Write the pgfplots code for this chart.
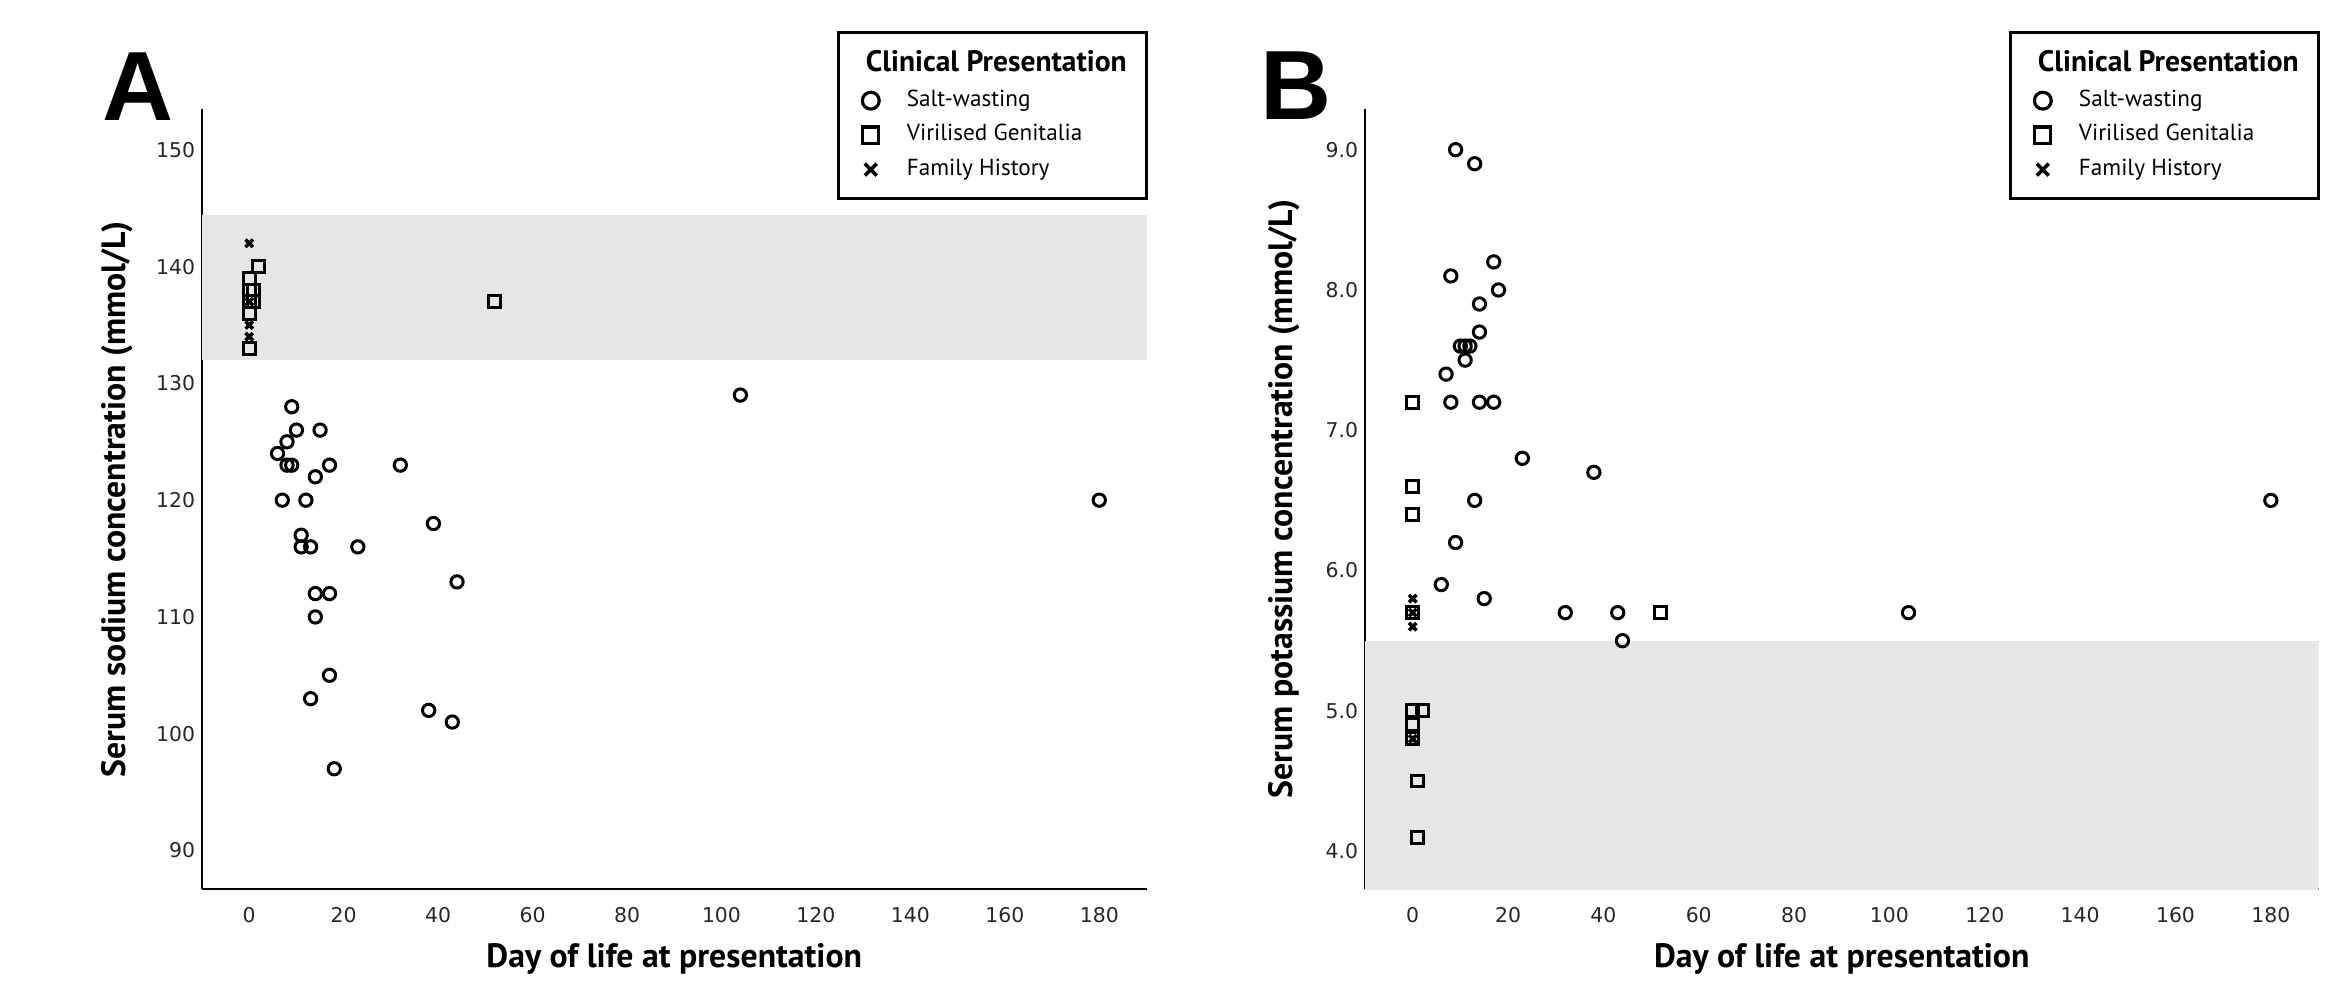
\documentclass[border=0pt]{standalone}
\usepackage{fontspec}
\setmainfont{PT Sans}
\newfontfamily\tickfont{DejaVu Sans}
\newfontfamily\letterfont{Liberation Sans}
\usepackage{pgfplots}
\pgfplotsset{compat=1.18}
\pgfplotsset{/pgf/number format/assume math mode=true}
\definecolor{bandgray}{RGB}{231,229,231}

\pgfplotstableread{
x y
9 128
10 126
15 126
8 125
6 124
8 123
9 123
17 123
32 123
14 122
7 120
12 120
39 118
11 117
11 116
13 116
23 116
44 113
14 112
17 112
14 110
17 105
13 103
38 102
43 101
18 97
104 129
180 120
}\NaCirc
\pgfplotstableread{
x y
0 139
0 138
0 137
0 136
1 138
1 137
2 140
0 133
52 137
}\NaSq
\pgfplotstableread{
x y
0 142
0 137
0 135
0 134
}\NaX
\pgfplotstableread{
x y
9 9.0
13 8.9
17 8.2
8 8.1
18 8.0
14 7.9
14 7.7
10 7.6
11 7.6
12 7.6
11 7.5
7 7.4
8 7.2
14 7.2
17 7.2
23 6.8
38 6.7
13 6.5
9 6.2
6 5.9
15 5.8
32 5.7
43 5.7
44 5.5
104 5.7
180 6.5
}\KCirc
\pgfplotstableread{
x y
0 7.2
0 6.6
0 6.4
0 5.7
52 5.7
0 5.0
2 5.0
0 4.9
0 4.8
1 4.5
1 4.1
}\KSq
\pgfplotstableread{
x y
0 5.8
0 5.7
0 5.6
0 4.8
}\KX

\pgfplotsset{
  myaxis/.style={
    scale only axis,
    height=7.8cm,
    xmin=-10, xmax=190,
    xtick={0,20,...,180},
    axis x line*=bottom, axis y line*=left,
    axis line style={-, line width=0.8pt, black},
    major tick length=0pt,
    xticklabel={\pgfmathprintnumber[assume math mode=true]{\tick}},
    tick label style={font=\tickfont\fontsize{5.8}{7}\selectfont, text=black!85},
    xticklabel style={yshift=-0.6mm},
    yticklabel style={xshift=0.55mm},
    label style={font=\bfseries\fontsize{9.6}{11}\selectfont},
    xlabel style={at={(axis description cs:0.5,0)}, anchor=center, yshift=-7mm},
    ylabel style={at={(axis description cs:0,0.5)}, anchor=center, yshift=8.5mm},
    clip mode=individual,
    legend style={at={(rel axis cs:1.002,1.1)}, anchor=north east, draw=black,
      line width=0.9pt, font=\fontsize{6.6}{7.8}\selectfont,
      inner xsep=1.8mm, inner ysep=1.6mm, row sep=0.85mm, column sep=1.4mm,
      nodes={inner sep=0.6pt}},
    legend cell align=left,
    legend image code/.code={%
      \path[draw=none] (0cm,0cm) -- (0.34cm,0cm);
      \draw[##1] plot coordinates {(0.14cm,0cm)};},
  },
  circ/.style={only marks, mark=o, mark size=1.75pt, line width=0.85pt, black},
  sq/.style={only marks, mark=square, mark size=1.7pt, line width=0.85pt, black},
  crs/.style={only marks, mark=x, mark size=1.5pt, line width=1pt, black},
}
\newcommand\mylegend{%
\addlegendimage{empty legend}
\addlegendentry{\hspace*{-4.1mm}\textbf{\fontsize{8.4}{9.5}\selectfont Clinical Presentation}\rule[-1.2mm]{0pt}{1mm}}
\addlegendimage{only marks, mark=o, /tikz/mark size=2.4pt, line width=0.9pt, black}
\addlegendentry{Salt-wasting}
\addlegendimage{only marks, mark=square, /tikz/mark size=2.3pt, line width=0.9pt, black}
\addlegendentry{Virilised Genitalia}
\addlegendimage{only marks, mark=x, /tikz/mark size=2.4pt, line width=1pt, black}
\addlegendentry{Family History}}

\begin{document}
\begin{tikzpicture}
\path[use as bounding box] (0,0) rectangle (23.47cm,9.87cm);

\begin{axis}[myaxis, at={(2.02cm,0.98cm)}, anchor=south west, width=9.445cm,
  ymin=86.7, ymax=153.5, ytick={90,100,...,150},
  yticklabel={\pgfmathprintnumber[assume math mode=true]{\tick}},
  xlabel={Day of life at presentation},
  ylabel={Serum sodium concentration (mmol/L)}]
\addplot[draw=none, fill=bandgray, forget plot] coordinates {(-10,132) (190,132) (190,144.4) (-10,144.4)} -- cycle;
\mylegend
\addplot[circ, forget plot] table[x=x,y=y] {\NaCirc};
\addplot[sq, forget plot] table[x=x,y=y] {\NaSq};
\addplot[crs, forget plot] table[x=x,y=y] {\NaX};
\node[anchor=base west, inner sep=0pt, font=\letterfont\bfseries\fontsize{28}{30}\selectfont]
  at (rel axis cs:0,1) [xshift=-10mm, yshift=-1.1mm] {A};
\end{axis}

\begin{axis}[myaxis, at={(13.65cm,0.98cm)}, anchor=south west, width=9.535cm,
  ymin=3.73, ymax=9.29, ytick={4,5,...,9},
  yticklabel={\pgfmathprintnumber[assume math mode=true, fixed, fixed zerofill, precision=1]{\tick}},
  ylabel style={yshift=-0.4mm},
  xlabel={Day of life at presentation},
  ylabel={Serum potassium concentration (mmol/L)}]
\addplot[draw=none, fill=bandgray, forget plot] coordinates {(-10,3.5) (190,3.5) (190,5.5) (-10,5.5)} -- cycle;
\mylegend
\addplot[circ, forget plot] table[x=x,y=y] {\KCirc};
\addplot[sq, forget plot] table[x=x,y=y] {\KSq};
\addplot[crs, forget plot] table[x=x,y=y] {\KX};
\node[anchor=base west, inner sep=0pt, font=\letterfont\bfseries\fontsize{28}{30}\selectfont]
  at (rel axis cs:0,1) [xshift=-10.5mm, yshift=-1.1mm] {B};
\end{axis}
\end{tikzpicture}
\end{document}
